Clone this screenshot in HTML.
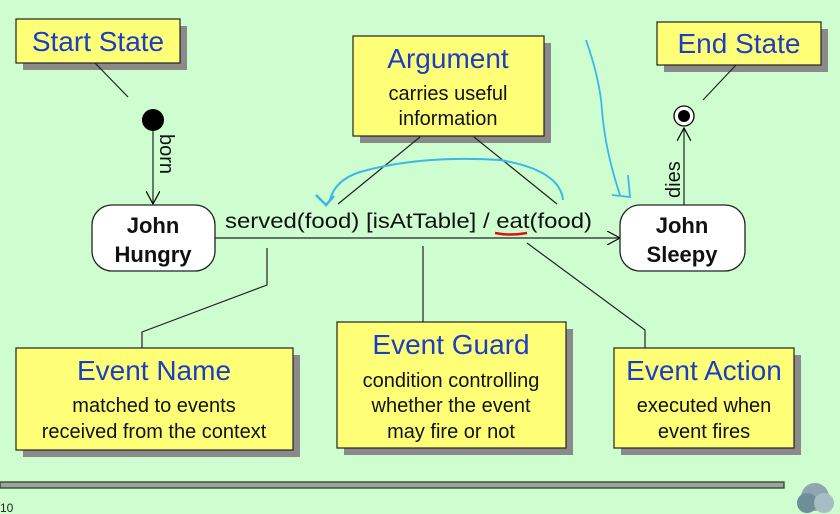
<!DOCTYPE html>
<html><head><meta charset="utf-8"><style>
html,body{margin:0;padding:0;background:#cefdd0;}
svg{display:block;font-family:"Liberation Sans",Arial,sans-serif;}
</style></head><body>
<svg width="840" height="514" viewBox="0 0 840 514" xmlns="http://www.w3.org/2000/svg">
<rect width="840" height="514" fill="#cefdd0"/>
<defs><marker id="ar" markerWidth="14" markerHeight="14" refX="13" refY="7" orient="auto" markerUnits="userSpaceOnUse"><path d="M0,0 L13,7 L0,14" fill="none" stroke="#000" stroke-width="1.2"/></marker></defs>
<g fill="#8a8a8a">
<rect x="23" y="26" width="164" height="44"/>
<rect x="360" y="43" width="191" height="100"/>
<rect x="664" y="29" width="164" height="43"/>
<rect x="23" y="355" width="277" height="102"/>
<rect x="344" y="329" width="229" height="126"/>
<rect x="621" y="355" width="180" height="100"/>
</g>
<g fill="#ffff77" stroke="#222" stroke-width="1.2">
<rect x="16" y="19" width="164" height="44"/>
<rect x="353" y="36" width="191" height="100"/>
<rect x="657" y="22" width="164" height="43"/>
<rect x="16" y="348" width="277" height="102"/>
<rect x="337" y="322" width="229" height="126"/>
<rect x="614" y="348" width="180" height="100"/>
</g>
<g fill="#1a3fc4" font-size="28" text-anchor="middle">
<text x="98" y="51">Start State</text>
<text x="448" y="68">Argument</text>
<text x="739" y="53">End State</text>
<text x="154" y="380">Event Name</text>
<text x="451" y="354">Event Guard</text>
<text x="704" y="380">Event Action</text>
</g>
<g fill="#111" font-size="20" text-anchor="middle">
<text x="448" y="100">carries useful</text>
<text x="448" y="125">information</text>
<text x="154" y="412">matched to events</text>
<text x="154" y="438">received from the context</text>
<text x="451" y="387">condition controlling</text>
<text x="451" y="412">whether the event</text>
<text x="451" y="438">may fire or not</text>
<text x="704" y="412">executed when</text>
<text x="704" y="438">event fires</text>
</g>
<g stroke="#222" stroke-width="1.2" fill="none">
<line x1="95" y1="63" x2="128" y2="97"/>
<line x1="420" y1="137" x2="338" y2="204"/>
<line x1="474" y1="137" x2="557" y2="204"/>
<line x1="736" y1="65" x2="703" y2="100"/>
<polyline points="267,248 267,285 142,332 142,348"/>
<line x1="423" y1="246" x2="423" y2="322"/>
<polyline points="527,243 645,330 645,348"/>
<line x1="153" y1="131" x2="153" y2="204" marker-end="url(#ar)"/>
<line x1="215" y1="238" x2="620" y2="238" marker-end="url(#ar)"/>
<line x1="684" y1="205" x2="684" y2="128" marker-end="url(#ar)"/>
</g>
<circle cx="153" cy="120" r="11" fill="#000"/>
<circle cx="684" cy="116" r="10" fill="#fff" stroke="#000" stroke-width="1.3"/>
<circle cx="684" cy="116" r="6" fill="#000"/>
<rect x="92" y="205" width="123" height="66" rx="20" fill="#fff" stroke="#222" stroke-width="1.3"/>
<rect x="620" y="205" width="125" height="66" rx="20" fill="#fff" stroke="#222" stroke-width="1.3"/>
<g font-size="22" font-weight="bold" text-anchor="middle" fill="#111">
<text x="153" y="233">John</text>
<text x="153" y="262">Hungry</text>
<text x="682" y="233">John</text>
<text x="682" y="262">Sleepy</text>
</g>
<text x="225" y="228" font-size="21" fill="#111" textLength="367" lengthAdjust="spacingAndGlyphs">served(food) [isAtTable] / eat(food)</text>
<text transform="translate(160,134) rotate(90)" font-size="20" fill="#111">born</text>
<text transform="translate(680,198) rotate(-90)" font-size="20" fill="#111">dies</text>
<path d="M495,233 Q510,236 527,233" stroke="#e01010" stroke-width="2.5" fill="none"/>
<path d="M330,200 Q335,180 360,172 Q420,155 500,160 Q560,170 563,200" stroke="#3ab8e8" stroke-width="2" fill="none"/>
<path d="M316,195 L326,205 L334,196" stroke="#3ab8e8" stroke-width="2.5" fill="none"/>
<path d="M586,40 Q600,80 602,110 Q605,150 620,195 M612,195 L630,197 L628,175" stroke="#3ab8e8" stroke-width="1.8" fill="none"/>
<rect x="0" y="482" width="784" height="6" fill="#9aa69a" stroke="#3a4a3a" stroke-width="1.4"/>
<text x="0" y="512" font-size="12" fill="#222">10</text>
<circle cx="815" cy="497" r="14" fill="#8fa6b0"/>
<circle cx="807" cy="503" r="10" fill="#6f8f98"/>
<circle cx="824" cy="503" r="10" fill="#a8bcc4"/>
</svg>
</body></html>
